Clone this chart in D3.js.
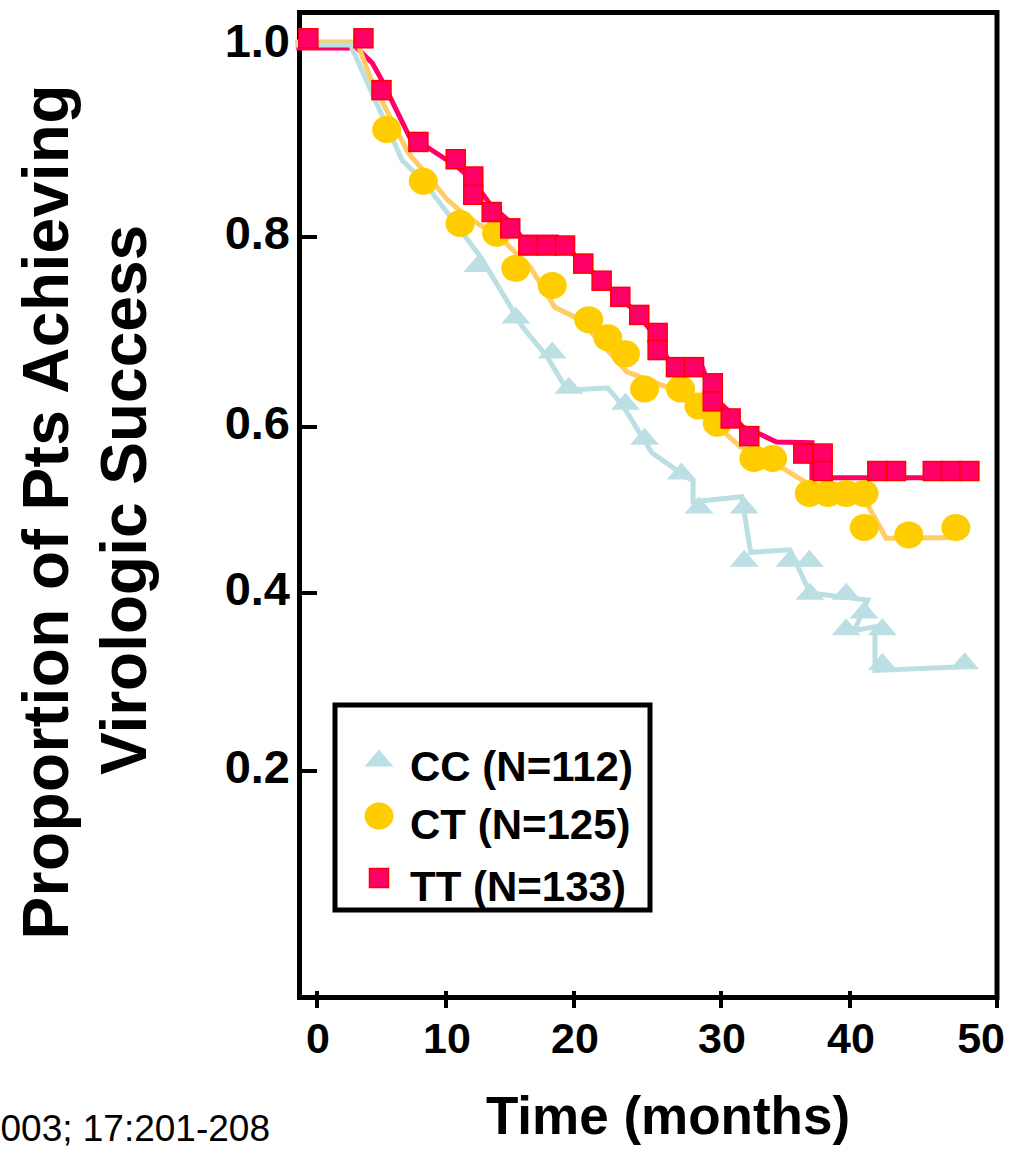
<!DOCTYPE html>
<meta charset="utf-8">

<head>
  <meta name="viewport" content="width=device-width, initial-scale=1">
  <style>
    body { margin: 0; background: #fff; }
    text { font-family: "Liberation Sans", Arial, sans-serif; }
  </style>
</head>

<body>
  <script src="https://cdn.jsdelivr.net/npm/d3@7/dist/d3.min.js"></script>

  <div id="viz"></div>

  <script type="text/javascript">
    // Axis ticks
    var xTicks = [0, 10, 20, 30, 40, 50];
    var yTicks = [0.2, 0.4, 0.6, 0.8, 1.0];

    // Kaplan-Meier curves, [months, proportion]
    var ccLine = [[-1.7, 1.0], [2.6, 1.0], [6.6, 0.880], [8.2, 0.859], [12.7, 0.779], [16.0, 0.705],
      [17.9, 0.674], [19.45, 0.639], [22.3, 0.641], [23.3, 0.623], [25.3, 0.569], [27.7, 0.539],
      [28.1, 0.536], [28.1, 0.510], [31.6, 0.516], [32.3, 0.449], [35.35, 0.452], [36.9, 0.400],
      [41.2, 0.392], [40.3, 0.358], [41.7, 0.362], [41.7, 0.313], [47.7, 0.317]];
    var ctLine = [[-1.7, 1.003], [3.1, 1.003], [4.1, 0.967], [5.4, 0.932], [7.05, 0.888], [8.2, 0.870],
      [10.1, 0.839], [11.3, 0.825], [12.7, 0.812], [14.2, 0.800], [16.6, 0.768], [18.5, 0.726],
      [20.4, 0.713], [23.6, 0.658], [26.5, 0.641], [29.25, 0.608], [31.5, 0.576], [33.8, 0.560],
      [36.9, 0.530], [40.9, 0.516], [42.45, 0.466], [47.7, 0.467]];
    var ttLine = [[-1.6, 0.997], [3.1, 0.997], [4.3, 0.981], [5.0, 0.964], [7.4, 0.898], [8.5, 0.894],
      [10.9, 0.873], [12.1, 0.859], [13.4, 0.835], [14.8, 0.818], [15.9, 0.800], [18.7, 0.800],
      [19.9, 0.783], [20.6, 0.772], [21.9, 0.754], [23.1, 0.737], [24.4, 0.718], [25.7, 0.692],
      [26.4, 0.671], [28.6, 0.668], [29.5, 0.632], [30.5, 0.618], [31.7, 0.600], [32.8, 0.593],
      [34.3, 0.582], [37.05, 0.581], [37.05, 0.539], [47.5, 0.539]];

    // Censor marks
    var ccMarks = [[12.5, 0.772], [15.45, 0.718], [18.3, 0.681], [19.6, 0.644], [23.5, 0.627],
      [24.8, 0.589], [27.3, 0.547], [28.5, 0.506], [31.8, 0.506], [31.8, 0.442], [35.35, 0.442],
      [36.85, 0.442], [36.9, 0.402], [39.7, 0.402], [40.95, 0.381], [39.7, 0.362], [42.2, 0.362],
      [42.2, 0.323], [47.8, 0.324]];
    var ctMarks = [[5.4, 0.912], [8.24, 0.858], [11.1, 0.814], [13.95, 0.804], [15.45, 0.767],
      [18.3, 0.749], [21.0, 0.713], [22.3, 0.694], [23.5, 0.677], [24.8, 0.640], [27.25, 0.640],
      [28.5, 0.622], [29.75, 0.604], [32.55, 0.562], [34.0, 0.562], [36.85, 0.520], [38.3, 0.520],
      [39.7, 0.520], [40.95, 0.520], [40.97, 0.479], [44.0, 0.470], [47.2, 0.479]];
    var ttMarks = [[-0.67, 1.007], [3.6, 1.007], [5.0, 0.953], [7.86, 0.899], [10.76, 0.881],
      [12.13, 0.863], [12.13, 0.844], [13.57, 0.826], [15.02, 0.809], [16.43, 0.791], [17.87, 0.791],
      [19.3, 0.791], [20.63, 0.772], [21.88, 0.754], [23.15, 0.737], [24.44, 0.718], [25.69, 0.699],
      [25.69, 0.681], [26.94, 0.663], [28.16, 0.663], [29.44, 0.646], [29.44, 0.627], [30.75, 0.609],
      [32.19, 0.589], [36.38, 0.568], [37.88, 0.568], [37.88, 0.547], [41.86, 0.547], [43.13, 0.547],
      [45.63, 0.547], [46.87, 0.547], [48.12, 0.547]];

    var legendLabels = ["CC (N=112)", "CT (N=125)", "TT (N=133)"];

    var config = { width: 1013, height: 1150 };

    var svg = d3.select("#viz").append("svg")
      .attr("width", config.width)
      .attr("height", config.height)
      .style("display", "block");

    // the scan is not evenly spaced, so piecewise scales through the tick positions
    var x = d3.scaleLinear().domain(xTicks).range([317, 446, 574, 721, 850, 997]);
    var y = d3.scaleLinear().domain(yTicks).range([771, 593, 427, 237, 45]);

    var colors = {
      cc: "#BBDFE3",
      ctLine: "#FFCC66",
      ctMark: "#FFCC00",
      tt: "#FF0066",
      ttEdge: "#FF0000"
    };

    var line = d3.line()
      .x(function(d) { return x(d[0]); })
      .y(function(d) { return y(d[1]); });

    // frame
    svg.append("rect")
      .attr("x", 299.5).attr("y", 12.5)
      .attr("width", 697.5).attr("height", 985)
      .attr("fill", "none")
      .attr("stroke", "#000")
      .attr("stroke-width", 5);

    // curves
    var curves = [[ttLine, colors.tt], [ctLine, colors.ctLine], [ccLine, colors.cc]];
    curves.forEach(function(c) {
      svg.append("path")
        .datum(c[0])
        .attr("d", line)
        .attr("fill", "none")
        .attr("stroke", c[1])
        .attr("stroke-width", 5)
        .attr("stroke-linejoin", "miter");
    });

    function triangle(sel) {
      sel.append("path")
        .attr("d", "M0,-8.5L14.5,8.5L-14.5,8.5Z")
        .attr("fill", colors.cc);
    }

    function circle(sel) {
      sel.append("ellipse")
        .attr("rx", 14.5).attr("ry", 13.5)
        .attr("fill", colors.ctMark);
    }

    function square(sel) {
      sel.append("rect")
        .attr("x", -9.5).attr("y", -9.5)
        .attr("width", 19).attr("height", 19)
        .attr("fill", colors.tt)
        .attr("stroke", colors.ttEdge)
        .attr("stroke-width", 1.5);
    }

    function marks(data, draw) {
      svg.append("g").selectAll("g")
        .data(data)
        .enter().append("g")
        .attr("transform", function(d) { return "translate(" + x(d[0]) + "," + y(d[1]) + ")"; })
        .call(draw);
    }

    marks(ccMarks, triangle);
    marks(ctMarks, circle);
    marks(ttMarks, square);

    // y axis: ticks point inward, labels on the left
    var yAxis = svg.append("g").attr("class", "y-axis");
    yAxis.selectAll("line")
      .data(yTicks.slice(0, 4))
      .enter().append("line")
      .attr("x1", 299).attr("x2", 317)
      .attr("y1", function(d) { return y(d); })
      .attr("y2", function(d) { return y(d); })
      .attr("stroke", "#000")
      .attr("stroke-width", 4);
    yAxis.selectAll("text")
      .data(yTicks)
      .enter().append("text")
      .attr("x", 290)
      .attr("y", function(d) { return y(d) + 12; })
      .attr("text-anchor", "end")
      .attr("font-size", 47)
      .attr("font-weight", "bold")
      .text(function(d) { return d3.format(".1f")(d); });

    // x axis
    var xAxis = svg.append("g").attr("class", "x-axis");
    xAxis.selectAll("line")
      .data(xTicks)
      .enter().append("line")
      .attr("x1", function(d) { return x(d); })
      .attr("x2", function(d) { return x(d); })
      .attr("y1", 991).attr("y2", 1008)
      .attr("stroke", "#000")
      .attr("stroke-width", 4);
    xAxis.selectAll("text")
      .data(xTicks)
      .enter().append("text")
      .attr("x", function(d, i) { return i == xTicks.length - 1 ? x(d) + 8 : x(d) + 1; })
      .attr("y", 1053)
      .attr("text-anchor", function(d, i) { return i == xTicks.length - 1 ? "end" : "middle"; })
      .attr("font-size", 43)
      .attr("font-weight", "bold")
      .text(function(d) { return d; });

    // axis titles
    svg.append("text")
      .attr("x", 668).attr("y", 1134)
      .attr("text-anchor", "middle")
      .attr("font-size", 53)
      .attr("font-weight", "bold")
      .text("Time (months)");

    var yTitle = svg.append("g")
      .attr("transform", "translate(0,510) rotate(-90)")
      .attr("font-size", 64)
      .attr("font-weight", "bold")
      .attr("text-anchor", "middle");
    yTitle.append("text").attr("x", -2).attr("y", 68).attr("textLength", 855).text("Proportion of Pts Achieving");
    yTitle.append("text").attr("x", 10).attr("y", 146).text("Virologic Success");

    // citation, cut at the left edge in the source
    svg.append("text")
      .attr("x", 270).attr("y", 1141)
      .attr("text-anchor", "end")
      .attr("font-size", 37)
      .text("003; 17:201-208");

    // legend
    svg.append("rect")
      .attr("x", 335).attr("y", 705)
      .attr("width", 315).attr("height", 205)
      .attr("fill", "#fff")
      .attr("stroke", "#000")
      .attr("stroke-width", 5);

    var legendDraw = [triangle, circle, square];
    var legendY = [758, 816, 878];
    legendLabels.forEach(function(label, i) {
      var g = svg.append("g").attr("transform", "translate(379," + legendY[i] + ")");
      g.call(legendDraw[i]);
      svg.append("text")
        .attr("x", 410).attr("y", legendY[i] + 8)
        .attr("dy", "0.35em")
        .attr("font-size", 42)
        .attr("font-weight", "bold")
        .text(label);
    });
  </script>
</body>
